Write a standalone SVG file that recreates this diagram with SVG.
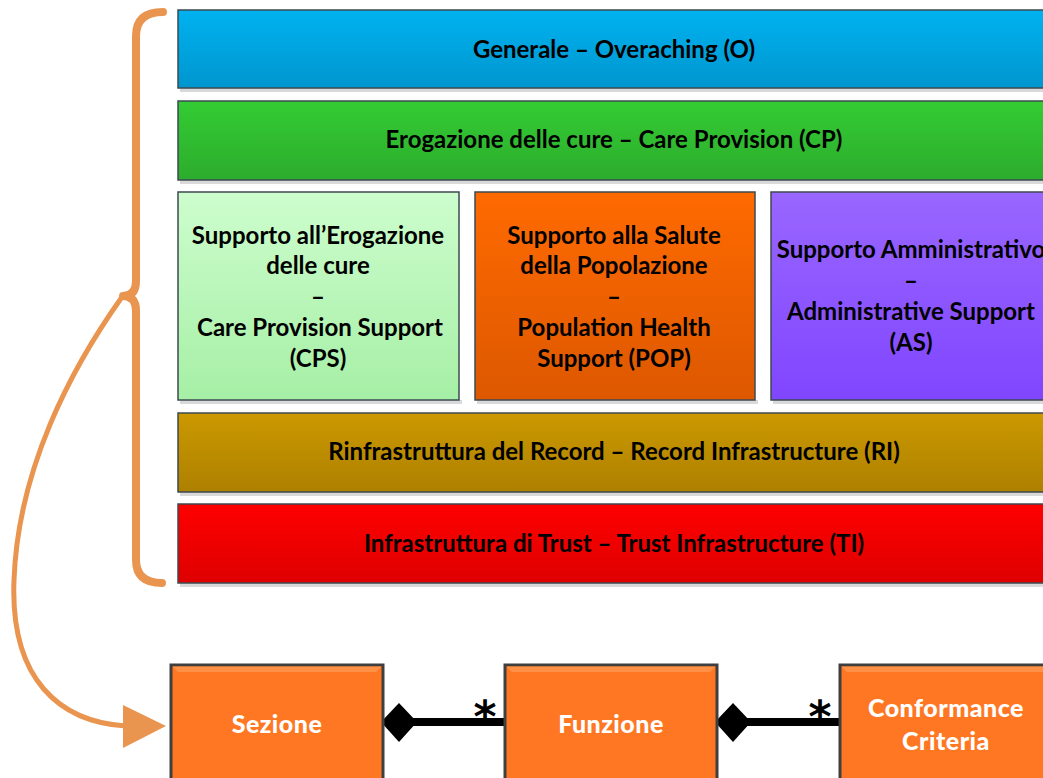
<svg xmlns="http://www.w3.org/2000/svg" width="1043" height="778" viewBox="0 0 1043 778">
<defs>
<linearGradient id="gBlue" x1="0" y1="0" x2="0" y2="1"><stop offset="0" stop-color="#00B2F0"/><stop offset="1" stop-color="#0096CE"/></linearGradient>
<linearGradient id="gGreen" x1="0" y1="0" x2="0" y2="1"><stop offset="0" stop-color="#33CC33"/><stop offset="1" stop-color="#2DAC2D"/></linearGradient>
<linearGradient id="gLight" x1="0" y1="0" x2="0" y2="1"><stop offset="0" stop-color="#CDFDCD"/><stop offset="1" stop-color="#A6EFA6"/></linearGradient>
<linearGradient id="gOrange" x1="0" y1="0" x2="0" y2="1"><stop offset="0" stop-color="#FF6A00"/><stop offset="1" stop-color="#DD5800"/></linearGradient>
<linearGradient id="gPurple" x1="0" y1="0" x2="0" y2="1"><stop offset="0" stop-color="#9966FF"/><stop offset="1" stop-color="#8046FF"/></linearGradient>
<linearGradient id="gGold" x1="0" y1="0" x2="0" y2="1"><stop offset="0" stop-color="#CC9900"/><stop offset="1" stop-color="#AD8000"/></linearGradient>
<linearGradient id="gRed" x1="0" y1="0" x2="0" y2="1"><stop offset="0" stop-color="#FF0000"/><stop offset="1" stop-color="#DE0000"/></linearGradient>
</defs>
<style>
.band{stroke:#3C4A50;stroke-width:1.5}
.shadow{fill:#D9D9D9}
.lbl{font-family:Lato,"Open Sans","Liberation Sans",sans-serif;font-weight:bold;font-size:24px;fill:#000;text-anchor:middle}
.blk{fill:#FF7722;stroke:#3F3F3F;stroke-width:3}
.bev{fill:#FF9147}
.wl{font-family:Lato,"Liberation Sans",sans-serif;font-weight:900;font-size:25px;fill:#FFFFFF;text-anchor:middle;letter-spacing:0.5px}
.brk{fill:none;stroke:#E9954F;stroke-width:8;stroke-linecap:round;stroke-linejoin:round}
.ast{font-family:"DejaVu Sans",sans-serif;font-weight:bold;font-size:44px;fill:#000;text-anchor:middle}
</style>

<g id="band-O">
<rect class="shadow" x="180" y="88" width="870" height="4"/>
<rect class="band" x="178" y="10" width="872" height="78" fill="url(#gBlue)"/>
<text class="lbl" x="614" y="58">Generale – Overaching (O)</text>
</g>
<g id="band-CP">
<rect class="shadow" x="180" y="180" width="870" height="4"/>
<rect class="band" x="178" y="101" width="872" height="79" fill="url(#gGreen)" stroke="#2F5F2F"/>
<text class="lbl" x="614" y="148">Erogazione delle cure – Care Provision (CP)</text>
</g>
<g id="box-CPS">
<rect class="shadow" x="180" y="400" width="282" height="4"/>
<rect class="band" x="178" y="192" width="281" height="208" fill="url(#gLight)" stroke="#5A6A5A"/>
<text class="lbl" x="318" y="244">Supporto all’Erogazione</text>
<text class="lbl" x="318" y="274">delle cure</text>
<text class="lbl" x="318" y="305">–</text>
<text class="lbl" x="320" y="336">Care Provision Support</text>
<text class="lbl" x="318" y="367">(CPS)</text>
</g>
<g id="box-POP">
<rect class="shadow" x="477" y="400" width="281" height="4"/>
<rect class="band" x="475" y="192" width="280" height="208" fill="url(#gOrange)" stroke="#6A3A1A"/>
<text class="lbl" x="614" y="244">Supporto alla Salute</text>
<text class="lbl" x="614" y="274">della Popolazione</text>
<text class="lbl" x="614" y="305">–</text>
<text class="lbl" x="614" y="336">Population Health</text>
<text class="lbl" x="614" y="367">Support (POP)</text>
</g>
<g id="box-AS">
<rect class="shadow" x="773" y="400" width="281" height="4"/>
<rect class="band" x="771" y="192" width="281" height="208" fill="url(#gPurple)" stroke="#4A3A6A"/>
<text class="lbl" x="911" y="258">Supporto Amministrativo</text>
<text class="lbl" x="911" y="289">–</text>
<text class="lbl" x="911" y="320">Administrative Support</text>
<text class="lbl" x="911" y="351">(AS)</text>
</g>
<g id="band-RI">
<rect class="shadow" x="180" y="492" width="870" height="4"/>
<rect class="band" x="178" y="413" width="872" height="79" fill="url(#gGold)" stroke="#5A4A2A"/>
<text class="lbl" x="614" y="460">Rinfrastruttura del Record – Record Infrastructure (RI)</text>
</g>
<g id="band-TI">
<rect class="shadow" x="180" y="583" width="870" height="4"/>
<rect class="band" x="178" y="504" width="872" height="79" fill="url(#gRed)" stroke="#6A2A2A"/>
<text class="lbl" x="614" y="552">Infrastruttura di Trust – Trust Infrastructure (TI)</text>
</g>

<g id="bracket">
<path class="brk" d="M163,12 Q136,12 136,36 L136,281 Q136,296 123,296 Q136,296 136,311 L136,560 Q136,583 162,583"/>
</g>

<g id="connectors">
<path d="M122,297 C70,370 18,470 14,580 C10,680 60,722 126,726" fill="none" stroke="#E9954F" stroke-width="5"/>
<polygon points="123,705 166,726 123,748" fill="#E9954F"/>
<line x1="410" y1="722" x2="505" y2="722" stroke="#000" stroke-width="8"/>
<polygon points="381,722 399,703 417,722 399,742" fill="#000"/>
<text class="ast" x="485" y="732">*</text>
<line x1="745" y1="722" x2="840" y2="722" stroke="#000" stroke-width="8"/>
<polygon points="715,722 733,703 751,722 733,742" fill="#000"/>
<text class="ast" x="820" y="732">*</text>
</g>

<g id="node-sezione">
<rect class="blk" x="171" y="665" width="212" height="125"/>
<polygon class="bev" points="172.5,666.5 381.5,666.5 376,672 178,672"/>
<text class="wl" x="277" y="733">Sezione</text>
</g>
<g id="node-funzione">
<rect class="blk" x="505" y="665" width="212" height="125"/>
<polygon class="bev" points="506.5,666.5 715.5,666.5 710,672 512,672"/>
<text class="wl" x="611" y="733">Funzione</text>
</g>
<g id="node-cc">
<rect class="blk" x="840" y="665" width="212" height="125"/>
<polygon class="bev" points="841.5,666.5 1050.5,666.5 1045,672 847,672"/>
<text class="wl" x="946" y="717">Conformance</text>
<text class="wl" x="946" y="750">Criteria</text>
</g>
</svg>
